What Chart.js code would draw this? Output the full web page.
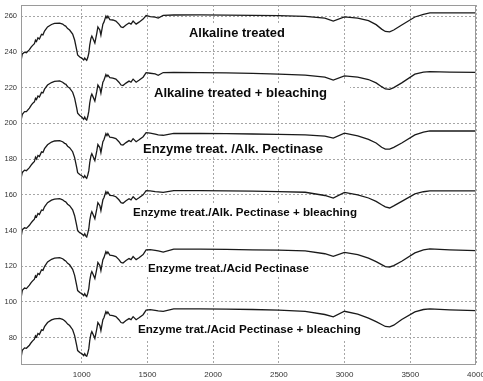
<!DOCTYPE html>
<html>
<head>
<meta charset="utf-8">
<script src="https://cdn.jsdelivr.net/npm/chart.js@4.4.1/dist/chart.umd.min.js"></script>
<style>
html,body{margin:0;padding:0;background:#fff;}
#c{display:block;}
</style>
</head>
<body>
<canvas id="c" width="483" height="381"></canvas>
<script>
// ---- data ----
const wavenumbers = [538,548,565,579,602,615,625,640,648,656,667,678,694,705,717,740,770,793,832,855,870,878,893,908,931,946,962,969,985,1000,1015,1023,1030,1038,1046,1054,1061,1070,1077,1084,1100,1115,1123,1138,1146,1161,1169,1184,1192,1199,1214,1237,1260,1283,1299,1314,1337,1360,1375,1391,1414,1436,1467,1490,1521,1559,1582,1620,1700,1900,2100,2300,2500,2700,2850,2914,2999,3100,3182,3240,3282,3310,3343,3374,3435,3535,3600,3649,3800,4000];

const alkalineTreated = [235.0,238.8,239.8,239.5,241.2,242.6,243.5,244.6,246.5,245.8,247.8,247.2,249.8,249.5,251.6,253.9,255.3,255.9,256.1,255.5,254.6,254.4,253.0,252.2,249.9,246.6,241.0,238.2,237.1,236.5,235.4,236.5,235.8,235.2,236.8,239.3,243.8,247.5,248.8,247.7,244.9,250.5,253.9,252.2,249.4,255.5,256.6,260.0,258.9,260.0,258.0,257.8,257.2,255.5,253.9,253.6,255.0,256.1,255.5,257.2,255.5,256.6,258.3,260.3,259.7,259.4,258.9,260.4,260.6,260.7,260.5,260.4,260.2,259.8,258.8,257.2,259.6,258.8,257.4,255.2,252.7,251.4,251.2,252.2,255.0,259.5,261.0,261.8,261.8,261.8];

const alkalineBleached = [201.5,205.0,206.5,206.5,208.5,210.0,211.0,212.0,214.0,213.3,215.3,214.7,217.3,217.0,219.1,221.4,222.8,223.5,223.7,223.0,222.1,221.9,220.5,219.7,217.4,214.1,208.5,205.7,204.4,203.5,202.2,203.5,202.4,201.8,203.8,206.8,211.3,215.0,216.3,215.2,212.4,218.0,221.4,219.7,216.9,223.0,224.1,227.3,226.2,227.0,225.5,225.3,224.7,223.0,221.4,221.1,222.5,223.6,223.0,224.7,223.0,224.1,225.8,228.3,228.0,227.6,226.9,228.4,228.5,228.4,228.2,227.9,227.5,227.0,225.8,224.2,226.5,225.8,224.5,222.6,220.5,219.2,219.0,220.0,222.6,227.5,228.6,228.9,228.6,228.5];

const enzymeAlk = [169.0,172.5,173.8,173.5,175.2,176.6,177.5,178.6,181.0,180.0,182.0,181.4,184.0,183.7,185.8,188.0,189.5,190.1,190.3,189.7,188.8,188.6,187.2,186.4,184.1,180.8,175.2,172.4,171.3,170.7,169.6,170.7,169.8,169.2,171.0,173.5,178.0,181.7,183.0,181.9,179.1,184.7,188.1,186.4,183.6,189.7,190.8,194.2,193.1,194.2,192.2,192.0,191.4,189.7,188.1,187.8,189.2,190.3,189.7,191.4,189.7,190.8,192.5,194.8,194.5,194.0,193.5,193.3,194.4,194.3,194.2,194.0,193.8,193.5,192.8,191.7,194.5,193.0,191.0,189.0,186.6,185.6,185.5,186.5,189.0,193.5,195.0,195.7,195.7,195.7];

const enzymeAlkBleached = [136.0,140.5,141.5,141.2,142.9,144.3,145.2,146.3,148.2,147.5,149.5,148.9,151.5,151.2,153.3,155.6,157.0,157.6,157.8,157.2,156.3,156.1,154.7,153.9,151.6,148.3,142.7,139.9,138.8,138.2,137.1,138.2,137.0,136.4,138.5,141.0,145.5,149.2,150.5,149.4,146.6,152.2,155.6,153.9,151.1,157.2,158.3,161.7,160.6,161.5,159.7,159.5,158.9,157.2,155.6,155.3,156.7,157.8,157.2,158.9,157.2,158.3,160.0,162.3,162.2,161.8,161.6,161.3,162.3,162.3,162.2,162.0,161.8,161.4,159.6,158.1,161.3,160.0,158.2,156.3,154.4,153.2,152.6,153.8,156.3,160.5,161.7,162.2,162.2,162.2];

const enzymeAcid = [102.0,106.5,107.8,107.5,109.4,110.8,111.7,112.8,114.7,114.0,116.0,115.4,118.0,117.7,119.8,122.4,123.9,124.5,124.8,124.2,123.3,123.0,121.6,120.8,118.3,114.9,109.2,106.4,105.3,104.7,103.6,104.7,103.6,103.0,104.9,107.5,112.0,115.7,117.0,115.9,113.1,118.7,122.1,120.4,117.6,123.7,124.8,128.2,127.1,128.0,126.2,126.0,125.4,123.7,122.1,121.8,123.2,124.3,123.7,125.4,123.7,124.8,126.5,129.2,129.3,128.9,128.6,127.9,129.6,129.6,129.4,129.2,129.0,128.6,127.0,125.5,127.8,126.5,124.5,122.6,120.9,119.8,119.6,120.4,122.8,127.5,129.2,129.7,129.2,128.7];

const enzymeAcidBleached = [68.7,73.0,74.3,74.1,75.8,77.2,78.1,79.2,81.1,80.4,82.4,81.8,84.4,84.1,86.2,88.5,90.0,90.6,90.8,90.3,89.5,89.0,87.6,86.8,84.5,81.2,75.6,72.8,71.7,71.1,70.0,71.1,70.0,69.6,71.4,73.9,78.4,82.1,83.4,82.3,79.5,85.1,88.5,86.8,84.0,90.1,91.2,94.6,93.5,94.4,92.6,92.4,91.8,90.1,88.5,88.2,89.6,90.7,90.1,91.8,90.1,91.2,92.9,95.5,95.7,95.3,95.0,94.8,96.1,96.1,96.0,95.8,95.5,94.8,93.0,91.7,94.8,93.2,91.0,89.0,87.4,86.3,86.1,87.0,90.2,94.5,95.8,96.1,95.6,95.2];

const seriesNames = ["Alkaline treated","Alkaline treated + bleaching","Enzyme treat. /Alk. Pectinase","Enzyme treat./Alk. Pectinase + bleaching","Enzyme treat./Acid Pectinase","Enzyme trat./Acid Pectinase + bleaching"];
const seriesValues = [alkalineTreated, alkalineBleached, enzymeAlk, enzymeAlkBleached, enzymeAcid, enzymeAcidBleached];

const xTicks = [1000,1500,2000,2500,3000,3500,4000];
const yTicks = [80,100,120,140,160,180,200,220,240,260];

// ---- label placement (pixels) ----
const labelBoxes = [
  {text: seriesNames[0], x1:189, x2:285, base:36.7, box:[181,24,290,40]},
  {text: seriesNames[1], x1:154, x2:327, base:96.7, box:[150,83,350,101]},
  {text: seriesNames[2], x1:143, x2:323, base:153.3, box:[140,141,326,157]},
  {text: seriesNames[3], x1:133, x2:357, base:216.0, box:[130,204,360,220]},
  {text: seriesNames[4], x1:148, x2:309, base:272.3, box:[146,260,310,276]},
  {text: seriesNames[5], x1:138, x2:361, base:332.7, box:[131,321,380,340]}
];

const labelPlugin = {
  id: 'labelPlugin',
  beforeDatasetsDraw(chart) {
    const ctx = chart.ctx;
    ctx.save();
    labelBoxes.forEach(l => {
      ctx.fillStyle = '#ffffff';
      ctx.fillRect(l.box[0], l.box[1], l.box[2]-l.box[0], l.box[3]-l.box[1]);
      const ref = 13;
      ctx.font = 'bold ' + ref + 'px "Liberation Sans", Arial, sans-serif';
      const w = ctx.measureText(l.text).width;
      const size = ref * (l.x2 - l.x1) / w;
      ctx.font = 'bold ' + size.toFixed(2) + 'px "Liberation Sans", Arial, sans-serif';
      ctx.fillStyle = '#0a0a0a';
      ctx.textBaseline = 'alphabetic';
      ctx.textAlign = 'left';
      ctx.fillText(l.text, l.x1, l.base);
    });
    ctx.restore();
  },
  afterDatasetsDraw(chart) {
    const {ctx, chartArea: a} = chart;
    ctx.save();
    ctx.strokeStyle = '#9a9a9a';
    ctx.lineWidth = 1;
    ctx.setLineDash([]);
    ctx.strokeRect(a.left + 0.5, a.top + 0.5, a.right - a.left - 1, a.bottom - a.top);
    ctx.restore();
  }
};

const datasets = seriesValues.map((vals, i) => ({
  label: seriesNames[i],
  data: wavenumbers.map((w, j) => ({x: w, y: vals[j]})),
  borderColor: '#1a1a1a',
  borderWidth: 1.3,
  pointRadius: 0,
  fill: false,
  tension: 0
}));

new Chart(document.getElementById('c'), {
  type: 'line',
  data: {datasets},
  plugins: [labelPlugin],
  options: {
    responsive: false,
    animation: false,
    layout: {padding: {top: 5, right: 7, left: 0, bottom: 0}},
    plugins: {legend: {display: false}, tooltip: {enabled: false}},
    scales: {
      x: {
        type: 'linear',
        min: 538,
        max: 4000,
        afterBuildTicks: s => { s.ticks = xTicks.map(v => ({value: v})); },
        afterFit: s => { s.height = 17; s.paddingLeft = 0; s.paddingRight = 0; },
        grid: {color: '#a6a6a6', lineWidth: 1, drawTicks: false},
        border: {display: false, dash: [2, 2]},
        ticks: {
          padding: 6,
          maxRotation: 0,
          autoSkip: false,
          color: '#333',
          font: {family: '"Liberation Sans", Arial, sans-serif', size: 8},
          callback: v => String(v)
        }
      },
      y: {
        type: 'linear',
        min: 65.3,
        max: 266.2,
        afterBuildTicks: s => { s.ticks = yTicks.map(v => ({value: v})); },
        afterFit: s => { s.width = 21; s.paddingTop = 0; s.paddingBottom = 0; },
        grid: {color: '#a6a6a6', lineWidth: 1, drawTicks: false},
        border: {display: false, dash: [2, 2]},
        ticks: {
          padding: 4,
          autoSkip: false,
          color: '#333',
          font: {family: '"Liberation Sans", Arial, sans-serif', size: 7.5},
          callback: v => String(v)
        }
      }
    }
  }
});
</script>
</body>
</html>
